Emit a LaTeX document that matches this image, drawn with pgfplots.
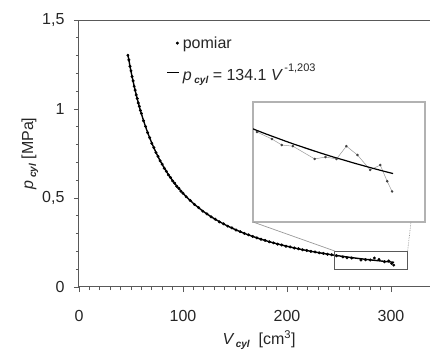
\documentclass[border=0pt]{standalone}
\usepackage{pgfplots}
\usepackage{pgfplotstable}
\pgfplotsset{compat=1.18}
\usepackage{fontspec}
\setmainfont{Liberation Sans}
\newcommand{\sub}[1]{\raisebox{-0.35ex}{\fontsize{10}{12}\selectfont\bfseries\itshape #1}}

\pgfplotstableread{
V p
47 1.302
48 1.276
49 1.240
50 1.214
51 1.182
52 1.158
53 1.128
54 1.106
55 1.079
56 1.059
57 1.034
58 1.015
59 0.992
60 0.975
62 0.934
64 0.902
66 0.867
68 0.839
70 0.807
72 0.783
74 0.755
76 0.734
78 0.709
80 0.690
82 0.667
84 0.650
86 0.630
88 0.615
90 0.596
92 0.583
94 0.566
96 0.554
98 0.538
100 0.527
103 0.507
107 0.486
111 0.464
115 0.446
119 0.426
123 0.411
127 0.394
131 0.381
135 0.366
139 0.355
143 0.342
147 0.332
151 0.320
155 0.311
159 0.301
163 0.293
167 0.284
171 0.276
175 0.268
179 0.262
183 0.254
187 0.248
191 0.241
195 0.236
199 0.229
203 0.225
207 0.219
211 0.215
215 0.209
219 0.205
223 0.200
227 0.197
231 0.192
235 0.189
239 0.184
243 0.181
247.6 0.1755
253.7 0.1693
257.7 0.164
262.2 0.163
271.1 0.1517
275.5 0.1534
280 0.1517
284 0.163
288.5 0.1552
293.7 0.142
297.8 0.1463
300.6 0.132
302.6 0.123
}\meas

\pgfplotstableread{
V p
47 1.3059
48 1.2732
49 1.2420
50 1.2122
51 1.1837
52 1.1563
53 1.1301
54 1.1050
55 1.0809
56 1.0577
57 1.0354
58 1.0140
59 0.9933
60 0.9735
62 0.9358
64 0.9007
66 0.8680
68 0.8374
70 0.8087
72 0.7817
74 0.7564
76 0.7325
78 0.7100
80 0.6887
82 0.6685
84 0.6494
86 0.6313
88 0.6141
90 0.5977
92 0.5821
94 0.5672
96 0.5530
98 0.5395
100 0.5265
103 0.5082
107 0.4854
111 0.4645
115 0.4451
119 0.4271
123 0.4104
127 0.3949
131 0.3805
135 0.3670
139 0.3543
143 0.3424
147 0.3313
151 0.3207
155 0.3108
159 0.3014
163 0.2925
167 0.2841
171 0.2761
175 0.2686
179 0.2614
183 0.2545
187 0.2480
191 0.2417
195 0.2358
199 0.2301
203 0.2246
207 0.2194
211 0.2144
215 0.2097
219 0.2051
223 0.2006
227 0.1964
231 0.1923
235 0.1884
239 0.1846
243 0.1809
247 0.1774
251 0.1740
255 0.1708
259 0.1676
263 0.1645
267 0.1616
271 0.1587
275 0.1559
279 0.1532
283 0.1507
287 0.1481
291 0.1457
295 0.1433
299 0.1410
303 0.1388
}\fit

\begin{document}
\begin{tikzpicture}
\begin{axis}[
  name=main,
  scale only axis,
  width=351pt, height=267pt,
  xmin=0, xmax=337.5, ymin=0, ymax=1.5,
  axis x line*=box, axis y line*=left,
  xtick pos=lower, ytick pos=left,
  xtick={0,100,200,300}, ytick={0,0.5,1,1.5},
  minor x tick num=9, minor y tick num=4,
  tick align=outside,
  major tick length=5pt, minor tick length=3pt,
  tick style={black!65, line width=0.8pt},
  axis line style={black!65, line width=1pt},
  /pgf/number format/use comma,
  /pgf/number format/assume math mode=true,
  tick label style={font=\fontsize{16}{19}\selectfont, text=black!85},
  yticklabel style={xshift=-6pt},
  xticklabel style={yshift=-15pt},
  xlabel={{\itshape V}\,\sub{cyl}\ \ [cm\textsuperscript{3}]},
  ylabel={{\itshape p}\,\sub{cyl} [MPa]},
  label style={font=\fontsize{16}{19}\selectfont, text=black!85},
  xlabel style={at={(axis description cs:0.513,-0.2)}, anchor=center},
  ylabel style={at={(axis description cs:-0.14,0.5)}, anchor=center},
  legend style={draw=none, fill=none, at={(axis description cs:0.25,0.95)}, anchor=north west,
    font=\fontsize{16}{19}\selectfont, text=black!85, row sep=8pt, inner sep=0pt,
    nodes={inner sep=3pt}},
  legend cell align=left,
  clip=false,
]
\addplot[only marks, mark=*, mark size=1.3pt, black,
  legend image code/.code={\path[draw=none,fill=none] (0pt,0pt) -- (12pt,0pt);\draw plot coordinates {(10pt,0pt)};}] table[x=V,y=p] {\meas};
\addlegendentry{pomiar}
\addplot[black, line width=1.4pt,
  legend image code/.code={\draw[line width=0.9pt] (0pt,0pt) -- (12pt,0pt);}] table[x=V,y=p] {\fit};
\addlegendentry{{\itshape p}\,\sub{cyl} = 134.1 {\itshape V}\,\raisebox{1.1ex}{\fontsize{11}{13}\selectfont -1,203}}
\draw[black!65, line width=0.9pt] (axis cs:246,0.096) rectangle (axis cs:316,0.202);
\coordinate (zl) at (axis cs:246,0.202);
\coordinate (zr) at (axis cs:316,0.202);
\end{axis}
\begin{axis}[
  name=inset, at={(174pt,65pt)}, anchor=south west,
  scale only axis, width=172pt, height=120pt,
  xmin=246, xmax=316, ymin=0.096, ymax=0.202,
  xtick=\empty, ytick=\empty,
  axis line style={black!30, line width=1.2pt},
  axis background/.style={fill=white},
]
\addplot[black!40, line width=0.5pt, mark=*, mark size=1pt, mark options={black!75},
  restrict x to domain=244:320] table[x=V,y=p] {\meas};
\addplot[black, line width=1.2pt] table[x=V,y=p] {\fit};
\end{axis}
\draw[black!40, line width=0.7pt] (zl) -- (inset.south west);
\draw[black!40, line width=0.7pt, densely dotted] (zr) -- ([xshift=-14pt]inset.south east);
\pgfresetboundingbox
\path ([shift={(-79pt,-67pt)}]main.south west) rectangle ([shift={(0pt,20pt)}]main.north east);
\end{tikzpicture}
\end{document}
